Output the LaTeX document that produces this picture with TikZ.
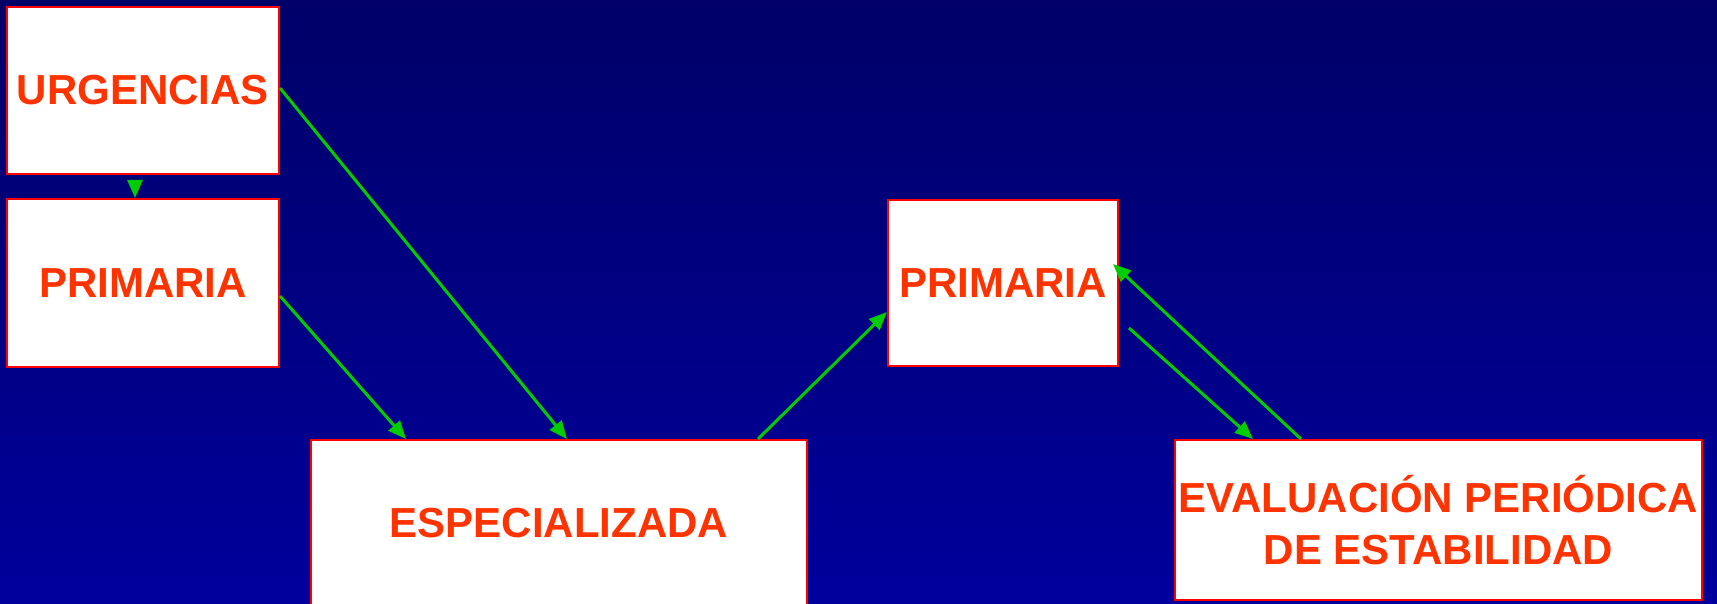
\documentclass[tikz,border=0pt]{standalone}
\usepackage{fontspec}
\setmainfont{Liberation Sans}
\usetikzlibrary{arrows.meta,calc}
\definecolor{txtred}{RGB}{255,51,0}
\definecolor{boxred}{RGB}{255,0,0}
\definecolor{arrgreen}{RGB}{0,204,0}
\definecolor{bgtop}{RGB}{0,0,104}
\definecolor{bgbot}{RGB}{0,0,156}
\tikzset{
  box/.style={draw=boxred, line width=2pt, fill=white, text=txtred,
    font=\fontsize{42}{52}\selectfont\bfseries, align=center, inner sep=0pt},
  arr/.style={draw=arrgreen, line width=3pt,
    -{Triangle[length=18pt,width=15pt]}}
}
\begin{document}
\begin{tikzpicture}[x=1pt,y=-1pt]
\useasboundingbox (0,0) rectangle (1717,604);
\clip (0,0) rectangle (1717,604);
\shade[top color=bgtop, bottom color=bgbot] (0,0) rectangle (1717,604);
\node[box, minimum width=272pt, minimum height=167pt] (urg) at (143,90.5) {URGENCIAS};
\node[box, minimum width=272pt, minimum height=168pt] (pri1) at (143,283) {PRIMARIA};
\node[box, minimum width=496pt, minimum height=166pt] (esp) at (559,523) {ESPECIALIZADA};
\node[box, minimum width=230pt, minimum height=166pt] (pri2) at (1003,283) {PRIMARIA};
\node[box, minimum width=527pt, minimum height=160pt] (eva) at (1438.5,520) {EVALUACIÓN PERIÓDICA\\DE ESTABILIDAD};
\draw[arr, shorten <=8pt] ($(urg.south)+(-8,0)$) -- ($(pri1.north)+(-8,0)$);
\draw[arr] ($(urg.east)+(0,-2.5)$) -- ($(esp.north)+(8,0)$);
\draw[arr] ($(pri1.east)+(0,13)$) -- ($(esp.north west)+(96,0)$);
\draw[arr] ($(esp.north west)+(448,0)$) -- ($(pri2.west)+(0,29)$);
\draw[arr] ($(pri2.east)+(10,45)$) -- ($(eva.north west)+(79,0)$);
\draw[arr] ($(eva.north west)+(127,0)$) -- ($(pri2.east)+(-6,-19)$);
\end{tikzpicture}
\end{document}
